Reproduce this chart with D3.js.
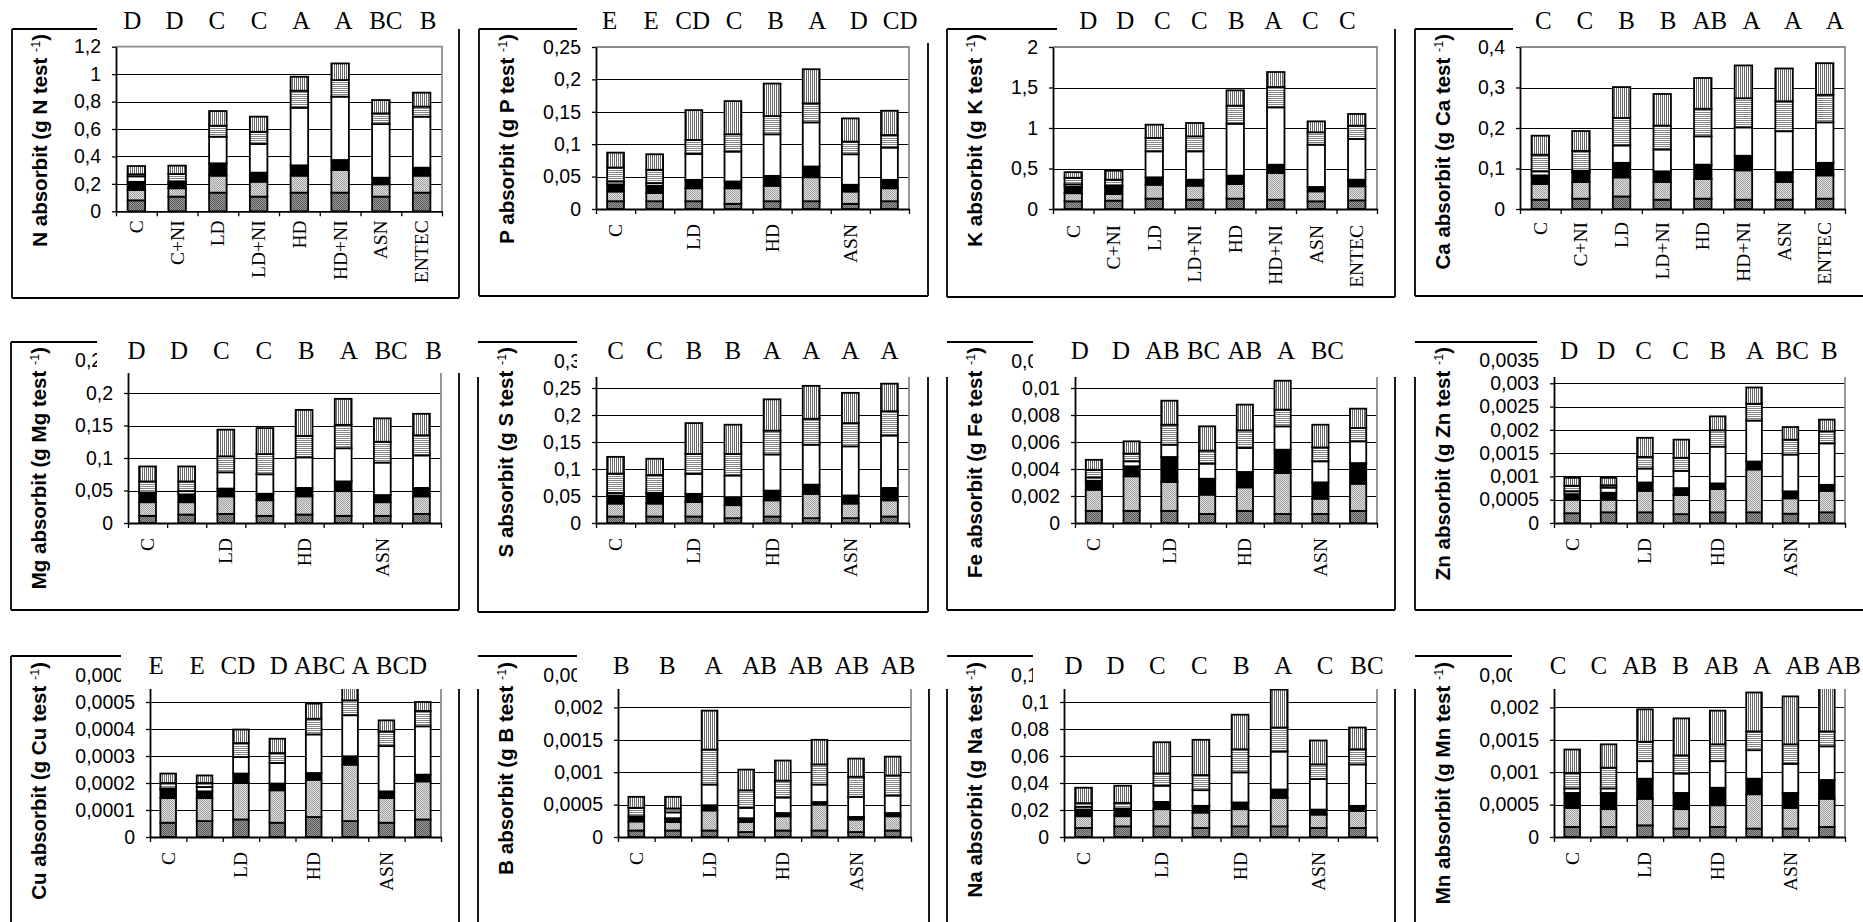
<!DOCTYPE html>
<html>
<head>
<meta charset="utf-8">
<script src="https://cdn.jsdelivr.net/npm/d3@7"></script>
<style>
  body { margin: 0; background: #fff; }
  svg { display: block; }
  .tick text { font-family: "Liberation Sans", Arial, sans-serif; font-size: 19.5px; fill: #000; }
</style>
</head>
<body>
<svg id="chart"></svg>
<script>
// treatments and stacked segments (bottom -> top)
const categories = ['C', 'C+NI', 'LD', 'LD+NI', 'HD', 'HD+NI', 'ASN', 'ENTEC']
const seriesKeys = ['s1', 's2', 's3', 's4', 's5', 's6']

const nAbs = [
  [0.08, 0.075, 0.06, 0.04, 0.015, 0.06],
  [0.107, 0.061, 0.036, 0.012, 0.056, 0.061],
  [0.136, 0.124, 0.09, 0.194, 0.08, 0.107],
  [0.107, 0.109, 0.066, 0.209, 0.089, 0.11],
  [0.136, 0.124, 0.075, 0.42, 0.124, 0.102],
  [0.136, 0.165, 0.073, 0.462, 0.121, 0.121],
  [0.107, 0.09, 0.048, 0.391, 0.078, 0.097],
  [0.136, 0.124, 0.058, 0.372, 0.073, 0.102]
]
const pAbs = [
  [0.012, 0.015, 0.011, 0.0045, 0.0215, 0.023],
  [0.012, 0.0126, 0.0114, 0.004, 0.0205, 0.024],
  [0.012, 0.02, 0.013, 0.04, 0.0216, 0.046],
  [0.008, 0.024, 0.0105, 0.0461, 0.0267, 0.0512],
  [0.012, 0.0239, 0.0153, 0.0641, 0.0281, 0.0502],
  [0.012, 0.037, 0.0166, 0.0681, 0.0293, 0.0527],
  [0.008, 0.019, 0.0104, 0.0471, 0.0195, 0.0358],
  [0.012, 0.02, 0.013, 0.0498, 0.0194, 0.0374]
]
const kAbs = [
  [0.095, 0.1, 0.08, 0.03, 0.08, 0.07],
  [0.103, 0.082, 0.082, 0.021, 0.074, 0.111],
  [0.128, 0.172, 0.091, 0.321, 0.165, 0.164],
  [0.115, 0.173, 0.074, 0.35, 0.185, 0.165],
  [0.128, 0.181, 0.103, 0.641, 0.223, 0.189],
  [0.115, 0.329, 0.103, 0.708, 0.251, 0.185],
  [0.095, 0.123, 0.054, 0.522, 0.153, 0.135],
  [0.107, 0.173, 0.082, 0.502, 0.165, 0.144]
]
const caAbs = [
  [0.023, 0.039, 0.021, 0.01, 0.041, 0.047],
  [0.0255, 0.041, 0.024, 0.004, 0.049, 0.049],
  [0.031, 0.047, 0.036, 0.043, 0.068, 0.076],
  [0.023, 0.044, 0.026, 0.054, 0.059, 0.078],
  [0.0255, 0.0485, 0.0355, 0.07, 0.068, 0.076],
  [0.023, 0.0725, 0.036, 0.07, 0.072, 0.081],
  [0.023, 0.044, 0.024, 0.101, 0.074, 0.081],
  [0.0255, 0.0575, 0.031, 0.1, 0.068, 0.078]
]
const mgAbs = [
  [0.011, 0.021, 0.014, 0.001, 0.017, 0.023],
  [0.013, 0.019, 0.012, 0.005, 0.015, 0.023],
  [0.014, 0.027, 0.012, 0.025, 0.0246, 0.041],
  [0.011, 0.024, 0.010, 0.030, 0.031, 0.040],
  [0.013, 0.028, 0.013, 0.047, 0.033, 0.040],
  [0.011, 0.038, 0.015, 0.051, 0.036, 0.040],
  [0.011, 0.021, 0.011, 0.050, 0.032, 0.036],
  [0.014, 0.027, 0.013, 0.050, 0.031, 0.033]
]
const sAbs = [
  [0.012, 0.024, 0.015, 0.0045, 0.036, 0.031],
  [0.012, 0.024, 0.019, 0.001, 0.033, 0.030],
  [0.012, 0.027, 0.015, 0.037, 0.037, 0.057],
  [0.009, 0.024, 0.015, 0.040, 0.040, 0.054],
  [0.012, 0.030, 0.018, 0.067, 0.044, 0.058],
  [0.009, 0.045, 0.017, 0.074, 0.048, 0.061],
  [0.009, 0.027, 0.015, 0.091, 0.043, 0.056],
  [0.012, 0.030, 0.023, 0.097, 0.045, 0.051]
]
const feAbs = [
  [0.0009, 0.00156, 0.00067, 0.00024, 0.00057, 0.00074],
  [0.0009, 0.00256, 0.00074, 0.00037, 0.00057, 0.00091],
  [0.0009, 0.00214, 0.00185, 0.00091, 0.00148, 0.00178],
  [0.00067, 0.00143, 0.00118, 0.00112, 0.00096, 0.0018],
  [0.0009, 0.00174, 0.00114, 0.00178, 0.0013, 0.00191],
  [0.00067, 0.00303, 0.00173, 0.00173, 0.00124, 0.00214],
  [0.00067, 0.00113, 0.00121, 0.00156, 0.00103, 0.00168],
  [0.0009, 0.00201, 0.00153, 0.00161, 0.00099, 0.00143]
]
const znAbs = [
  [0.00021, 0.00029, 0.00012, 0.00006, 0.00012, 0.00017],
  [0.00023, 0.00027, 0.00015, 0.00011, 0.00005, 0.00016],
  [0.00023, 0.00046, 0.00018, 0.0003, 0.00025, 0.00041],
  [0.00019, 0.00041, 0.00015, 0.00037, 0.00028, 0.00039],
  [0.00023, 0.0005, 0.00012, 0.00079, 0.00035, 0.0003],
  [0.00023, 0.00092, 0.00017, 0.00088, 0.00036, 0.00035],
  [0.0002, 0.00033, 0.00015, 0.00079, 0.00032, 0.00027],
  [0.00023, 0.00046, 0.00013, 0.00089, 0.00026, 0.00025]
]
const cuAbs = [
  [0.000053, 0.000091, 0.000032, 0.000004, 0.00002, 0.000035],
  [0.000059, 0.000085, 0.000025, 0.000016, 0.000015, 0.000028],
  [0.000065, 0.000135, 0.000035, 0.000061, 0.000052, 0.00005],
  [0.000053, 0.00012, 0.000025, 0.000076, 0.000037, 0.000053],
  [0.000074, 0.000138, 0.000025, 0.000143, 0.000058, 0.000056],
  [0.000059, 0.000209, 0.000031, 0.000152, 0.000055, 0.00006],
  [0.000053, 0.000091, 0.000025, 0.000168, 0.000054, 0.000041],
  [0.000065, 0.000141, 0.000025, 0.000179, 0.000057, 0.000033]
]
const bAbs = [
  [0.0001, 0.00014, 0.00008, 0, 0.00013, 0.00017],
  [0.0001, 0.00013, 0.00006, 0.00009, 0.00006, 0.00018],
  [0.0001, 0.00031, 0.00008, 0.00032, 0.00054, 0.0006],
  [0.000077, 0.000153, 0.00006, 0.00016, 0.00027, 0.00032],
  [0.0001, 0.00022, 0.00005, 0.00024, 0.00026, 0.00031],
  [0.0001, 0.0004, 0.00004, 0.00027, 0.00031, 0.00038],
  [0.000077, 0.000193, 0.00004, 0.00031, 0.00031, 0.00028],
  [0.0001, 0.00022, 0.00005, 0.00027, 0.00031, 0.00029]
]
const naAbs = [
  [0.0067, 0.0087, 0.005, 0.002, 0.0027, 0.0114],
  [0.0079, 0.0075, 0.005, 0.0007, 0.0042, 0.0127],
  [0.0079, 0.0127, 0.0054, 0.012, 0.0091, 0.0231],
  [0.0067, 0.0114, 0.005, 0.0116, 0.0112, 0.0261],
  [0.0079, 0.0127, 0.005, 0.0223, 0.0171, 0.0256],
  [0.0079, 0.0211, 0.0062, 0.0281, 0.0178, 0.0281],
  [0.0067, 0.0099, 0.0037, 0.0226, 0.0109, 0.0177],
  [0.0067, 0.0127, 0.0037, 0.0307, 0.0112, 0.0161]
]
const mnAbs = [
  [0.000155, 0.000295, 0.00023, 0.00007, 0.00024, 0.00036],
  [0.000155, 0.000275, 0.00025, 0.00007, 0.00032, 0.00036],
  [0.00018, 0.00041, 0.00031, 0.00027, 0.0003, 0.0005],
  [0.00013, 0.0003, 0.00025, 0.0003, 0.00028, 0.00057],
  [0.000155, 0.000335, 0.00027, 0.00041, 0.00026, 0.00052],
  [0.00013, 0.00053, 0.00024, 0.00044, 0.00029, 0.0006],
  [0.00013, 0.00032, 0.00023, 0.00045, 0.0003, 0.00074],
  [0.000155, 0.000435, 0.00029, 0.00052, 0.00023, 0.00077]
]

// significance letters above the bars
const nLetters = ['D', 'D', 'C', 'C', 'A', 'A', 'BC', 'B']
const pLetters = ['E', 'E', 'CD', 'C', 'B', 'A', 'D', 'CD']
const kLetters = ['D', 'D', 'C', 'C', 'B', 'A', 'C', 'C']
const caLetters = ['C', 'C', 'B', 'B', 'AB', 'A', 'A', 'A']
const mgLetters = ['D', 'D', 'C', 'C', 'B', 'A', 'BC', 'B']
const sLetters = ['C', 'C', 'B', 'B', 'A', 'A', 'A', 'A']
const feLetters = ['D', 'D', 'AB', 'BC', 'AB', 'A', 'BC']
const znLetters = ['D', 'D', 'C', 'C', 'B', 'A', 'BC', 'B']
const cuLetters = ['E', 'E', 'CD', 'D', 'ABC', 'A', 'BCD']
const bLetters = ['B', 'B', 'A', 'AB', 'AB', 'AB', 'AB']
const naLetters = ['D', 'D', 'C', 'C', 'B', 'A', 'C', 'BC']
const mnLetters = ['C', 'C', 'AB', 'B', 'AB', 'A', 'AB', 'AB']

// y tick labels
const nTicks = [0, 0.2, 0.4, 0.6, 0.8, 1, 1.2]
const pTicks = [0, 0.05, 0.1, 0.15, 0.2, 0.25]
const kTicks = [0, 0.5, 1, 1.5, 2]
const caTicks = [0, 0.1, 0.2, 0.3, 0.4]
const mgTicks = [0, 0.05, 0.1, 0.15, 0.2, 0.25]
const sTicks = [0, 0.05, 0.1, 0.15, 0.2, 0.25, 0.3]
const feTicks = [0, 0.002, 0.004, 0.006, 0.008, 0.01, 0.012]
const znTicks = [0, 0.0005, 0.001, 0.0015, 0.002, 0.0025, 0.003, 0.0035]
const cuTicks = [0, 0.0001, 0.0002, 0.0003, 0.0004, 0.0005, 0.0006]
const bTicks = [0, 0.0005, 0.001, 0.0015, 0.002, 0.0025]
const naTicks = [0, 0.02, 0.04, 0.06, 0.08, 0.1, 0.12]
const mnTicks = [0, 0.0005, 0.001, 0.0015, 0.002, 0.0025]

const W = 1863, H = 922
const svg = d3.select('#chart').attr('width', W).attr('height', H)

// fill patterns for the six segments
const defs = svg.append('defs')
function checker(id, base, dot) {
    let pat = defs.append('pattern').attr('id', id)
        .attr('width', 2).attr('height', 2).attr('patternUnits', 'userSpaceOnUse')
    pat.append('rect').attr('width', 2).attr('height', 2).attr('fill', base)
    pat.append('rect').attr('width', 1).attr('height', 1).attr('fill', dot)
    pat.append('rect').attr('x', 1).attr('y', 1).attr('width', 1).attr('height', 1).attr('fill', dot)
}
function stripes(id, col, vertical) {
    let pat = defs.append('pattern').attr('id', id)
        .attr('width', 2).attr('height', 2).attr('patternUnits', 'userSpaceOnUse')
    pat.append('rect').attr('width', 2).attr('height', 2).attr('fill', '#fff')
    pat.append('rect').attr('width', vertical ? 1 : 2).attr('height', vertical ? 2 : 1).attr('fill', col)
}
checker('pDark', '#9a9a9a', '#585858')
checker('pLight', '#dedede', '#a2a2a2')
stripes('pHor', '#858585', false)
stripes('pVer', '#666', true)
const fills = ['url(#pDark)', 'url(#pLight)', '#000', '#fff', 'url(#pHor)', 'url(#pVer)']

const fmt = d => String(d).replace('.', ',')

class StackedPanel {

    constructor(_config, _data) {
        this.config = {
            parentElement: _config.parentElement,
            frame: _config.frame,
            plot: _config.plot,
            box: _config.box,
            letterY: _config.letterY,
            titleY: _config.titleY,
            labelGap: _config.labelGap || 14,
            letterShift: _config.letterShift || 0,
            letterStretch: _config.letterStretch || 0,
            allLabels: _config.allLabels || false
        }
        this.data = _data
        this.initVis()
    }

    initVis() {
        let vis = this
        let p = vis.config.plot
        let f = vis.config.frame

        vis.g = d3.select(vis.config.parentElement).append('g')

        vis.xScale = d3.scaleBand()
            .domain(categories)
            .range([p.x, p.x + p.w])
            .paddingInner(0.57)
            .paddingOuter(0.285)

        vis.yScale = d3.scaleLinear()
            .domain([0, d3.max(vis.data.ticks)])
            .range([p.y + p.h, p.y])

        //outer frame of the panel
        let right = f.right == null ? W + 5 : f.right
        let bottom = f.bottom == null ? H + 5 : f.bottom
        let frameLines = [
            [f.left, f.top, f.topTo, f.top],
            [f.left, f.leftFrom, f.left, bottom]
        ]
        if (f.right != null) frameLines.push([right, f.rightFrom, right, bottom])
        if (f.bottom != null) frameLines.push([f.left, bottom, right, bottom])
        vis.g.selectAll('.frame').data(frameLines).join('line')
            .attr('class', 'frame')
            .attr('x1', d => d[0]).attr('y1', d => d[1])
            .attr('x2', d => d[2]).attr('y2', d => d[3])
            .attr('stroke', '#000').attr('stroke-width', 1.8)

        //gridlines
        let inner = vis.data.ticks.filter(t => t > 0 && t < d3.max(vis.data.ticks))
        vis.g.selectAll('.grid').data(inner).join('line')
            .attr('class', 'grid')
            .attr('x1', p.x).attr('x2', p.x + p.w)
            .attr('y1', d => Math.round(vis.yScale(d)) + 0.5).attr('y2', d => Math.round(vis.yScale(d)) + 0.5)
            .attr('stroke', '#000').attr('stroke-width', 1)

        //gray plot-area border
        vis.g.append('path')
            .attr('d', `M${p.x},${p.y}H${p.x + p.w}V${p.y + p.h}`)
            .attr('fill', 'none').attr('stroke', '#8c8c8c').attr('stroke-width', 1.8)

        //stacked bars
        let rows = vis.data.values.map((r, i) => {
            let o = {cat: categories[i]}
            seriesKeys.forEach((k, j) => o[k] = r[j])
            return o
        })
        vis.stacked = d3.stack().keys(seriesKeys)(rows)

        vis.g.selectAll('.series').data(vis.stacked).join('g')
            .attr('class', 'series')
            .attr('fill', (d, i) => fills[i])
            .selectAll('rect').data(d => d).join('rect')
            .attr('x', d => vis.xScale(d.data.cat))
            .attr('width', vis.xScale.bandwidth())
            .attr('y', d => vis.yScale(d[1]))
            .attr('height', d => vis.yScale(d[0]) - vis.yScale(d[1]))
            .attr('stroke', '#000').attr('stroke-width', 1.8)

        //axes
        vis.yAxis = d3.axisLeft(vis.yScale)
            .tickValues(vis.data.ticks)
            .tickSize(4)
            .tickSizeOuter(0)
            .tickPadding(11)
            .tickFormat(fmt)

        vis.yAxisG = vis.g.append('g')
            .attr('transform', `translate(${p.x},0)`)
            .call(vis.yAxis)
        vis.yAxisG.select('.domain').attr('stroke-width', 1.8)
        vis.yAxisG.selectAll('.tick line').attr('stroke-width', 1.3)

        vis.tickScale = d3.scaleLinear()
            .domain([0, categories.length])
            .range([p.x, p.x + p.w])

        vis.xAxisG = vis.g.append('g')
            .attr('transform', `translate(0,${p.y + p.h})`)
            .call(d3.axisBottom(vis.tickScale).ticks(categories.length).tickSize(5).tickSizeOuter(0).tickFormat(''))
        vis.xAxisG.select('.domain').attr('stroke-width', 1.8)
        vis.xAxisG.selectAll('.tick line').attr('stroke-width', 1.3)

        //treatment labels, rotated
        let shown = categories.filter((c, i) => vis.config.allLabels || i % 2 === 0)
        vis.g.selectAll('.xlab').data(shown).join('text')
            .attr('class', 'xlab')
            .attr('transform', d => `translate(${vis.xScale(d) + vis.xScale.bandwidth() / 2},${p.y + p.h + vis.config.labelGap}) rotate(-90)`)
            .attr('dy', '0.33em')
            .attr('text-anchor', 'end')
            .style('font-family', '"Liberation Serif", "Times New Roman", serif')
            .style('font-size', '19.5px')
            .text(d => d)

        //y axis title with superscript
        let title = vis.g.append('text')
            .attr('transform', `translate(${f.left + 27.5},${vis.config.titleY}) rotate(-90)`)
            .attr('dy', '0.36em')
            .attr('text-anchor', 'end')
            .style('font-family', '"Liberation Sans", Arial, sans-serif')
            .style('font-weight', 'bold')
            .style('font-size', '20.5px')
            .style('white-space', 'pre')
        title.append('tspan').text(`${vis.data.element} absorbit (g ${vis.data.element} test `)
        title.append('tspan').attr('dy', -7).style('font-size', '12.5px').style('font-weight', 'normal').text('-1')
        title.append('tspan').attr('dy', 7).text(')')

        //white text box of the letters, it hides the top of the panel
        let b = vis.config.box
        vis.g.append('rect')
            .attr('x', b[0]).attr('y', b[1])
            .attr('width', b[2] - b[0]).attr('height', b[3] - b[1])
            .attr('fill', '#fff')

        //letters sit roughly over the bars, typed in a text box
        vis.g.selectAll('.letter').data(vis.data.letters).join('text')
            .attr('class', 'letter')
            .attr('x', (d, i) => vis.xScale(categories[i]) + vis.xScale.bandwidth() / 2
                + vis.config.letterShift + i * vis.config.letterStretch)
            .attr('y', vis.config.letterY)
            .attr('text-anchor', 'middle')
            .style('font-family', '"Liberation Serif", "Times New Roman", serif')
            .style('font-size', '25px')
            .text(d => d)
    }
}

// layout of the 12 panels (pixels)
const panels = [
    {el: 'N', values: nAbs, letters: nLetters, ticks: nTicks, all: true, gap: 9, shift: -4, stretch: 1.5,
     frame: {left: 12, top: 29, topTo: 97, leftFrom: 29, right: 459, rightFrom: 29, bottom: 298},
     plot: {x: 116, y: 46.7, w: 326, h: 164.6}, box: [97, 0, 456, 40], letterY: 29, titleY: 34},
    {el: 'P', values: pAbs, letters: pLetters, ticks: pTicks, all: false, gap: 15, shift: -6, stretch: 2.4,
     frame: {left: 479, top: 29, topTo: 577, leftFrom: 29, right: 928, rightFrom: 43, bottom: 296},
     plot: {x: 596, y: 47, w: 313, h: 162}, box: [577, 0, 935, 43], letterY: 29, titleY: 34},
    {el: 'K', values: kAbs, letters: kLetters, ticks: kTicks, all: true, gap: 16, shift: 15, stretch: -3.5,
     frame: {left: 947, top: 29, topTo: 1057, leftFrom: 29, right: 1395, rightFrom: 29, bottom: 297},
     plot: {x: 1053, y: 47, w: 324, h: 162}, box: [1057, 0, 1392, 40], letterY: 29, titleY: 34},
    {el: 'Ca', values: caAbs, letters: caLetters, ticks: caTicks, all: true, gap: 13, shift: 3, stretch: 1,
     frame: {left: 1415, top: 29, topTo: 1513, leftFrom: 29, right: null, bottom: 296},
     plot: {x: 1520, y: 47, w: 325, h: 162}, box: [1513, 0, W, 40], letterY: 29, titleY: 34},

    {el: 'Mg', values: mgAbs, letters: mgLetters, ticks: mgTicks, all: false, gap: 15, shift: -11, stretch: 3.3,
     frame: {left: 11, top: 342, topTo: 97, leftFrom: 342, right: 459, rightFrom: 373, bottom: 610},
     plot: {x: 128, y: 360.5, w: 313, h: 162.5}, box: [97, 315, 470, 373], letterY: 359, titleY: 347},
    {el: 'S', values: sAbs, letters: sLetters, ticks: sTicks, all: false, gap: 15, shift: 0, stretch: 0,
     frame: {left: 478, top: 342, topTo: 577, leftFrom: 377, right: 928, rightFrom: 377, bottom: 612},
     plot: {x: 596, y: 361, w: 313, h: 162}, box: [577, 315, 935, 377], letterY: 359, titleY: 347},
    {el: 'Fe', values: feAbs, letters: feLetters, ticks: feTicks, all: false, gap: 15, shift: -14, stretch: 3.5,
     frame: {left: 947, top: 342, topTo: 1033, leftFrom: 377, right: 1395, rightFrom: 377, bottom: 610},
     plot: {x: 1075, y: 361, w: 302, h: 162}, box: [1033, 315, 1400, 377], letterY: 359, titleY: 347},
    {el: 'Zn', values: znAbs, letters: znLetters, ticks: znTicks, all: false, gap: 15, shift: -3, stretch: 0.8,
     frame: {left: 1415, top: 342, topTo: 1537, leftFrom: 377, right: null, bottom: 610},
     plot: {x: 1554, y: 360, w: 291, h: 163}, box: [1541, 315, W, 377], letterY: 359, titleY: 347},

    {el: 'Cu', values: cuAbs, letters: cuLetters, ticks: cuTicks, all: false, gap: 15, shift: -12, stretch: 4.5,
     frame: {left: 11, top: 656, topTo: 121, leftFrom: 656, right: 459, rightFrom: 689, bottom: null},
     plot: {x: 150, y: 675, w: 291, h: 162}, box: [121, 630, 465, 689], letterY: 674, titleY: 662},
    {el: 'B', values: bAbs, letters: bLetters, ticks: bTicks, all: false, gap: 15, shift: -15, stretch: 9.5,
     frame: {left: 478, top: 656, topTo: 577, leftFrom: 689, right: 929, rightFrom: 689, bottom: null},
     plot: {x: 618, y: 675, w: 293, h: 162}, box: [577, 630, 935, 689], letterY: 674, titleY: 662},
    {el: 'Na', values: naAbs, letters: naLetters, ticks: naTicks, all: false, gap: 15, shift: -10, stretch: 2.8,
     frame: {left: 947, top: 656, topTo: 1033, leftFrom: 689, right: 1395, rightFrom: 689, bottom: null},
     plot: {x: 1064, y: 675, w: 313, h: 162}, box: [1033, 630, 1400, 689], letterY: 674, titleY: 662},
    {el: 'Mn', values: mnAbs, letters: mnLetters, ticks: mnTicks, all: false, gap: 15, shift: -14, stretch: 4.4,
     frame: {left: 1415, top: 656, topTo: 1512, leftFrom: 689, right: null, bottom: null},
     plot: {x: 1554, y: 675, w: 291, h: 162}, box: [1512, 630, W, 689], letterY: 674, titleY: 662}
]

panels.forEach(c => {
    new StackedPanel({
        parentElement: '#chart',
        frame: c.frame,
        plot: c.plot,
        box: c.box,
        letterY: c.letterY,
        titleY: c.titleY,
        labelGap: c.gap,
        letterShift: c.shift,
        letterStretch: c.stretch,
        allLabels: c.all
    }, {element: c.el, values: c.values, letters: c.letters, ticks: c.ticks})
})
</script>
</body>
</html>
